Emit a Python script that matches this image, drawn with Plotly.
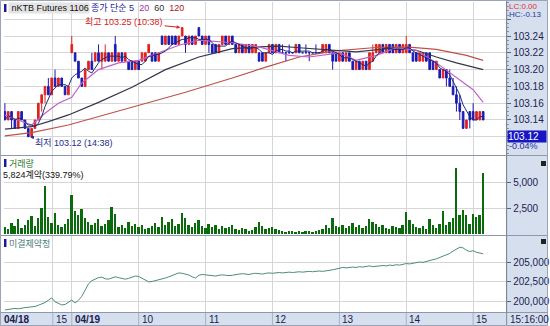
import plotly.graph_objects as go
import pandas as pd

# ---------------- data (3-minute bars, 04/18 14:17 .. 04/19 15:11) ----------------
bar_minutes = list(range(2, 60, 3)) + list(range(62, 434, 3))  # trading minutes (04/18 15:00 = 45, 04/19 09:00 = 62)

opens = [103.15,103.14,103.15,103.14,103.13,103.15,103.14,103.13,103.12,103.13,
         103.14,103.16,103.17,103.18,103.17,103.19,103.18,103.19,103.18,103.17,
         103.22,103.22,103.21,103.19,103.18,103.20,103.21,103.21,103.22,103.21,
         103.21,103.22,103.21,103.23,103.21,103.22,103.21,103.21,103.21,103.20,
         103.21,103.21,103.21,103.22,103.22,103.22,103.21,103.24,103.23,103.24,
         103.24,103.24,103.23,103.24,103.24,103.23,103.24,103.23,103.25,103.24,
         103.23,103.24,103.23,103.23,103.22,103.23,103.24,103.23,103.24,103.23,
         103.22,103.23,103.22,103.23,103.22,103.22,103.22,103.22,103.21,103.22,
         103.23,103.22,103.23,103.22,103.22,103.22,103.22,103.22,103.23,103.22,
         103.22,103.22,103.22,103.22,103.22,103.22,103.22,103.23,103.22,103.22,
         103.21,103.22,103.21,103.22,103.21,103.20,103.21,103.20,103.21,103.20,
         103.21,103.22,103.22,103.23,103.22,103.23,103.23,103.22,103.23,103.22,
         103.22,103.23,103.22,103.22,103.21,103.21,103.22,103.22,103.21,103.20,
         103.20,103.19,103.20,103.19,103.18,103.17,103.16,103.15,103.13,103.15,
         103.15,103.14,103.14,103.15]
highs = [103.16,103.15,103.15,103.14,103.15,103.15,103.14,103.13,103.13,103.14,
         103.16,103.17,103.18,103.19,103.19,103.20,103.19,103.19,103.18,103.18,
         103.24,103.22,103.21,103.19,103.20,103.21,103.22,103.22,103.23,103.22,
         103.23,103.22,103.22,103.24,103.22,103.22,103.22,103.21,103.21,103.21,
         103.21,103.22,103.22,103.23,103.22,103.22,103.22,103.24,103.24,103.24,
         103.24,103.24,103.24,103.25,103.24,103.24,103.24,103.24,103.25,103.24,
         103.24,103.24,103.23,103.23,103.23,103.24,103.24,103.24,103.24,103.23,
         103.23,103.23,103.23,103.23,103.23,103.23,103.22,103.22,103.22,103.23,
         103.23,103.23,103.23,103.23,103.22,103.23,103.22,103.23,103.23,103.22,
         103.23,103.22,103.22,103.23,103.22,103.23,103.23,103.23,103.22,103.22,
         103.22,103.22,103.22,103.22,103.21,103.21,103.21,103.21,103.21,103.22,
         103.23,103.23,103.23,103.23,103.23,103.23,103.23,103.23,103.23,103.23,
         103.24,103.23,103.22,103.22,103.22,103.22,103.22,103.22,103.21,103.21,
         103.20,103.20,103.20,103.20,103.19,103.18,103.17,103.15,103.14,103.15,
         103.16,103.15,103.15,103.15]
lows = [103.14,103.14,103.13,103.13,103.13,103.14,103.13,103.12,103.12,103.13,
        103.14,103.15,103.16,103.17,103.17,103.18,103.18,103.18,103.17,103.17,
        103.22,103.21,103.19,103.18,103.18,103.20,103.20,103.21,103.21,103.20,
        103.21,103.21,103.21,103.21,103.21,103.21,103.21,103.20,103.20,103.20,
        103.20,103.21,103.21,103.22,103.21,103.21,103.21,103.23,103.23,103.23,
        103.23,103.23,103.23,103.24,103.22,103.23,103.23,103.23,103.24,103.23,
        103.23,103.22,103.22,103.22,103.22,103.23,103.23,103.23,103.23,103.22,
        103.22,103.22,103.22,103.22,103.22,103.22,103.21,103.21,103.21,103.22,
        103.22,103.22,103.22,103.22,103.21,103.22,103.22,103.22,103.22,103.22,
        103.22,103.21,103.22,103.22,103.22,103.22,103.22,103.22,103.20,103.21,
        103.21,103.21,103.21,103.21,103.20,103.20,103.20,103.20,103.20,103.20,
        103.21,103.22,103.22,103.22,103.22,103.22,103.22,103.22,103.22,103.22,
        103.22,103.22,103.21,103.21,103.21,103.21,103.21,103.20,103.20,103.20,
        103.19,103.19,103.18,103.18,103.17,103.15,103.14,103.13,103.13,103.13,
        103.14,103.14,103.14,103.14]
closes = [103.14,103.15,103.14,103.13,103.15,103.14,103.13,103.12,103.13,103.14,
          103.16,103.17,103.18,103.17,103.19,103.18,103.19,103.18,103.17,103.18,
          103.23,103.21,103.19,103.18,103.20,103.21,103.20,103.22,103.21,103.22,
          103.22,103.21,103.22,103.21,103.22,103.21,103.22,103.20,103.20,103.21,
          103.20,103.22,103.22,103.23,103.21,103.21,103.22,103.23,103.24,103.23,
          103.23,103.23,103.24,103.25,103.23,103.24,103.23,103.24,103.24,103.23,
          103.24,103.23,103.22,103.22,103.23,103.24,103.23,103.24,103.23,103.22,
          103.23,103.22,103.23,103.22,103.23,103.23,103.21,103.21,103.22,103.23,
          103.22,103.23,103.22,103.22,103.22,103.22,103.22,103.23,103.22,103.22,
          103.22,103.22,103.22,103.22,103.22,103.23,103.23,103.22,103.21,103.21,
          103.22,103.21,103.22,103.21,103.20,103.21,103.20,103.21,103.20,103.22,
          103.22,103.23,103.23,103.22,103.23,103.22,103.22,103.23,103.22,103.23,
          103.23,103.22,103.21,103.21,103.22,103.22,103.21,103.20,103.20,103.21,
          103.19,103.20,103.19,103.18,103.17,103.16,103.15,103.13,103.14,103.14,
          103.14,103.15,103.15,103.14]
volumes = [700,500,1100,800,1400,600,900,1300,1700,800,
           1500,2500,4600,1600,1100,2000,900,700,1000,1400,
           3750,2200,1800,2400,1500,1200,900,1100,1400,800,
           1000,1300,2600,1900,700,900,600,1200,800,1000,
           700,900,500,600,800,1100,700,1600,900,1200,
           1400,800,1000,2000,1500,900,700,1100,1300,800,
           600,1000,700,900,500,800,600,700,900,500,
           400,600,500,300,400,700,1200,800,500,600,
           700,500,400,300,200,300,250,200,300,200,
           250,300,200,300,400,500,900,600,1500,800,
           700,900,600,800,1100,700,900,600,800,1400,
           1200,1000,700,900,600,500,800,700,600,900,
           2100,1300,1000,700,600,800,500,1400,900,600,
           1000,2200,900,1200,1500,6350,1800,2300,1800,1000,
           1900,1600,1800,5824]
open_interest = [198850,198900,198950,199050,199000,199100,199150,199200,199250,199300,
                 199450,199600,199800,200100,200400,199900,199700,199500,199550,199900,
                 200130,199750,200100,200600,201500,202200,202600,202800,203000,203050,
                 202850,202800,202950,203100,203000,202900,202800,202900,203050,203200,
                 203150,202900,202600,202450,202500,202600,202700,202850,202950,203100,
                 203250,203400,203600,203550,203450,203330,203100,202950,203300,203400,
                 203350,203300,203250,203200,203300,203350,203300,203250,203300,203400,
                 203450,203500,203450,203400,203500,203550,203500,203450,203550,203600,
                 203550,203600,203650,203600,203650,203700,203650,203700,203750,203700,
                 203750,203800,203750,203800,203850,203800,203850,203900,204000,204100,
                 204250,204300,204250,204300,204350,204300,204400,204350,204450,204500,
                 204400,204450,204500,204550,204500,204600,204550,204650,204600,204700,
                 204800,204750,204850,204900,205000,204950,205100,205200,205300,205400,
                 205550,205700,205900,206100,206400,206700,206900,206800,206500,206350,
                 206450,206250,206100,206050]

# moving averages at selected bars
ma20_bar = [0,4,8,12,16,20,23,28,34,40,46,52,58,68,76,85,91,100,105,111,117,123,129,135,140,143]
ma20_val = [103.146,103.140,103.134,103.148,103.160,103.167,103.184,103.200,103.208,103.211,103.220,
            103.229,103.235,103.232,103.227,103.217,103.215,103.220,103.211,103.217,103.226,103.223,
            103.208,103.191,103.176,103.161]
ma60_bar = [0,8,13,19,28,38,48,58,63,68,76,82,88,97,105,117,123,129,135,143]
ma60_val = [103.129,103.132,103.138,103.146,103.161,103.179,103.200,103.215,103.220,103.225,103.227,
            103.228,103.226,103.223,103.221,103.226,103.223,103.215,103.208,103.200]
ma120_bar = [0,8,19,28,40,54,68,78,88,98,110,120,129,138,143]
ma120_val = [103.121,103.125,103.134,103.144,103.158,103.173,103.190,103.203,103.215,103.222,
             103.226,103.227,103.224,103.217,103.211]

tick_minutes = [45, 62, 122, 182, 242, 302, 362, 422]
tick_labels = ["15", "<b>04/19</b>", "10", "11", "12", "13", "14", "15"]
price_ticks = [103.12, 103.14, 103.16, 103.18, 103.20, 103.22, 103.24, 103.26]
price_ticktext = ["", "103.14", "103.16", "103.18", "103.20", "103.22", "103.24", ""]

# ---------------- figure ----------------
W, H = 550, 326
def fx(p): return p / W
def fy(p): return 1 - p / H

RED = "#E0221E"
BLUE = "#1A1AB4"
ma5 = pd.Series(closes).rolling(5, min_periods=1).mean()

fig = go.Figure()
fig.add_trace(go.Scatter(x=[bar_minutes[i] for i in ma120_bar], y=ma120_val, mode="lines",
                         line=dict(color="#C0504A", width=1.2), xaxis="x", yaxis="y", hoverinfo="skip"))
fig.add_trace(go.Scatter(x=[bar_minutes[i] for i in ma60_bar], y=ma60_val, mode="lines",
                         line=dict(color="#33384A", width=1.2), xaxis="x", yaxis="y", hoverinfo="skip"))
fig.add_trace(go.Scatter(x=[bar_minutes[i] for i in ma20_bar], y=ma20_val, mode="lines",
                         line=dict(color="#C060C8", width=1.2), xaxis="x", yaxis="y", hoverinfo="skip"))
fig.add_trace(go.Candlestick(x=bar_minutes, open=opens, high=highs, low=lows, close=closes,
                             increasing=dict(line=dict(color=RED, width=1), fillcolor=RED),
                             decreasing=dict(line=dict(color=BLUE, width=1), fillcolor=BLUE),
                             whiskerwidth=0, xaxis="x", yaxis="y", hoverinfo="skip"))
fig.add_trace(go.Scatter(x=bar_minutes, y=ma5, mode="lines",
                         line=dict(color="#1E2A78", width=1), xaxis="x", yaxis="y", hoverinfo="skip"))
fig.add_trace(go.Bar(x=bar_minutes, y=volumes, marker=dict(color="#0B6A0B", line=dict(width=0)),
                     width=1.7, xaxis="x2", yaxis="y2", hoverinfo="skip"))
fig.add_trace(go.Scatter(x=bar_minutes, y=open_interest, mode="lines",
                         line=dict(color="#4E8C74", width=1), xaxis="x3", yaxis="y3", hoverinfo="skip"))

xrange = [1.2, 451.6]
xdom = [fx(4), fx(508)]
common_x = dict(range=xrange, domain=xdom, tickvals=tick_minutes, showticklabels=False,
                showgrid=True, gridcolor="#D6D6D6", gridwidth=1, zeroline=False, ticks="",
                fixedrange=True, showline=False)
common_y = dict(side="right", showgrid=True, gridcolor="#D6D6D6", gridwidth=1, zeroline=False,
                ticks="outside", ticklen=4, tickcolor="#5A6478", showline=True, linecolor="#7D889C",
                tickfont=dict(size=10, color="#1C2350"), fixedrange=True)

fig.update_layout(
    width=W, height=H, margin=dict(l=0, r=0, t=0, b=0),
    paper_bgcolor="white", plot_bgcolor="white", showlegend=False, hovermode=False,
    font=dict(family="Liberation Sans, Noto Sans CJK KR, sans-serif", size=10, color="#222"),
    bargap=0,
    xaxis=dict(**common_x, anchor="y", rangeslider=dict(visible=False)),
    xaxis2=dict(**common_x, anchor="y2"),
    xaxis3=dict(**common_x, anchor="y3"),
    yaxis=dict(**common_y, anchor="x", domain=[fy(155), fy(2)], range=[103.0983, 103.2805],
               tickvals=price_ticks, ticktext=price_ticktext,
               minor=dict(ticks="outside", ticklen=2, tickcolor="#8A94A8", dtick=0.005,
                          tick0=103.12, showgrid=False)),
    yaxis2=dict(**common_y, anchor="x2", domain=[fy(234), fy(156)], range=[0, 7500],
                tickvals=[2500, 5000], ticktext=["2,500", "5,000"]),
    yaxis3=dict(**common_y, anchor="x3", domain=[fy(312), fy(236)], range=[198590, 208334],
                tickvals=[200000, 202500, 205000], ticktext=["200,000", "202,500", "205,000"]),
)

shapes = []
AXBG = "#D5DFEE"
# right axis background and bottom time bar background
shapes.append(dict(type="rect", xref="paper", yref="paper", x0=fx(508), x1=1, y0=0, y1=1,
                   fillcolor=AXBG, line=dict(width=0), layer="below"))
shapes.append(dict(type="rect", xref="paper", yref="paper", x0=0, x1=1, y0=0, y1=fy(313),
                   fillcolor=AXBG, line=dict(width=0), layer="below"))
# panel separators
for yp in (155.5, 235.5, 312.5):
    shapes.append(dict(type="line", xref="paper", yref="paper", x0=0, x1=1, y0=fy(yp), y1=fy(yp),
                       line=dict(color="#8E98AC", width=1)))
shapes.append(dict(type="line", xref="paper", yref="paper", x0=fx(508.5), x1=fx(508.5), y0=0, y1=1,
                   line=dict(color="#7D889C", width=1)))
# time bar dividers
for m in tick_minutes:
    shapes.append(dict(type="line", xref="x3", yref="paper", x0=m, x1=m, y0=0, y1=fy(313),
                       line=dict(color="#A8B2C4", width=1)))
# outer frame
shapes.append(dict(type="rect", xref="paper", yref="paper", x0=fx(0.5), x1=fx(549.5), y0=fy(325.5), y1=fy(0.5),
                   line=dict(color="#9AA4B6", width=1)))
# small legend markers
for (x0, y0, y1) in ((4, 4, 12), (86, 4, 12), (4, 159, 167), (4, 239, 247)):
    shapes.append(dict(type="rect", xref="paper", yref="paper", x0=fx(x0), x1=fx(x0 + 2.5),
                       y0=fy(y1), y1=fy(y0), fillcolor="#1A1A9A", line=dict(width=0)))
for (y0,) in ((161,), (239,)):
    shapes.append(dict(type="rect", xref="paper", yref="paper", x0=fx(543), x1=fx(548),
                       y0=fy(y0 + 5), y1=fy(y0), fillcolor="#222", line=dict(width=0)))
fig.update_layout(shapes=shapes)

ann = []
def txt(x, y, s, color="#222", size=9, xanchor="left", bg=None, **kw):
    d = dict(xref="paper", yref="paper", x=fx(x), y=fy(y), text=s, showarrow=False,
             xanchor=xanchor, yanchor="middle", font=dict(size=size, color=color), borderpad=0)
    if bg:
        d["bgcolor"] = bg
    d.update(kw)
    ann.append(d)

txt(8, 8, " nKTB Futures 1106", color="#111", bg="#E4E4E4")
txt(90, 8, '<span style="color:#1E1EA0">종가 단순 5</span>  <span style="color:#A030A8">20</span>  '
           '<span style="color:#333333">60</span>  <span style="color:#B02020">120</span>')
txt(510, 6, "LC:0.00", color="#E03030", size=8)
txt(510, 15, "HC:-0.13", color="#2A3A9A", size=8)
txt(8, 163, "거래량", color="#2E7A2E")
txt(2, 174, "5,824계약(339.79%)", color="#111")
txt(8, 243, "미결제약정", color="#4A7A78")
txt(510, 146, "-0.04%", color="#1A2AA0")
ann.append(dict(xref="paper", yref="y", x=fx(509), y=103.12, text="103.12", showarrow=False,
                xanchor="left", yanchor="middle", bgcolor="#1616C4", width=38, align="left",
                font=dict(size=10, color="white"), borderpad=0))
# high / low markers
ann.append(dict(xref="x", yref="y", x=bar_minutes[53], y=103.25, text="최고 103.25 (10:38)",
                showarrow=True, ax=-58, ay=-6, arrowcolor="#D42020", arrowhead=2, arrowsize=0.7,
                arrowwidth=1, standoff=2, font=dict(size=9, color="#D42020")))
ann.append(dict(xref="x", yref="y", x=bar_minutes[7], y=103.12, text="최저 103.12 (14:38)",
                showarrow=True, ax=46, ay=6, arrowcolor="#1E2A8C", arrowhead=2, arrowsize=0.7,
                arrowwidth=1, standoff=2, font=dict(size=9, color="#1E2A8C")))
# time axis labels
txt(3, 319.5, "<b>04/18</b>", color="#1A2050", size=10)
for m, lab in zip(tick_minutes, tick_labels):
    ann.append(dict(xref="x3", yref="paper", x=m, y=fy(319.5), text=lab, showarrow=False,
                    xanchor="left", yanchor="middle", xshift=1, font=dict(size=10, color="#1A2050")))
txt(511, 319.5, "15:16:00", color="#1A2050", size=10)
fig.update_layout(annotations=ann)

fig.write_html("out.html")
